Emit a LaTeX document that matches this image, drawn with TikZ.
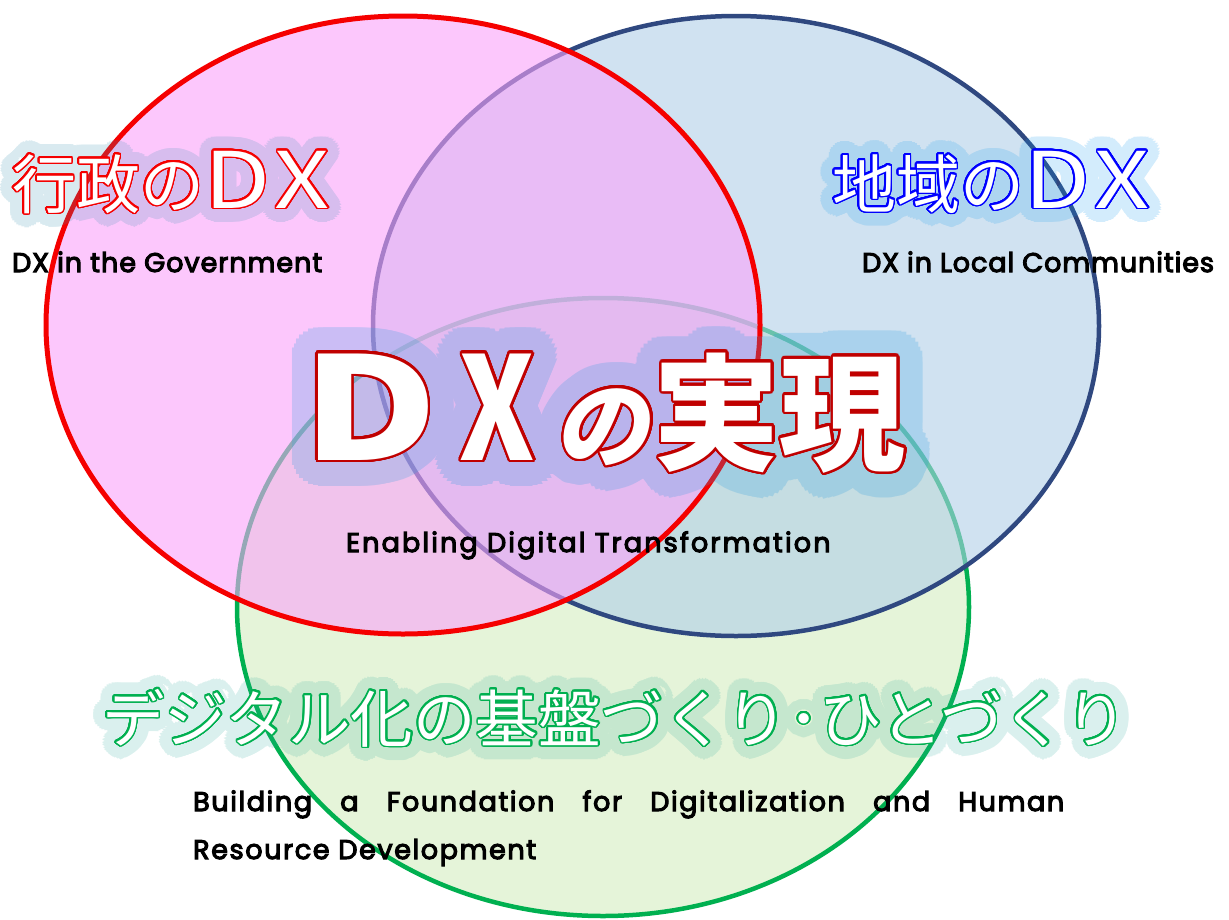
\documentclass[tikz,border=0pt]{standalone}
\usepackage{fontspec}
\usepackage{graphicx}
\usepackage[copies]{contour}
\contournumber{32}
\newfontfamily\jp{Noto Sans CJK JP}
\newfontfamily\jpsl{Noto Sans CJK JP}[FakeSlant=0.18]
\newfontfamily\en{Poppins}[FakeBold=4]
\definecolor{redline}{RGB}{245,0,0}
\definecolor{blueline}{RGB}{47,72,128}
\definecolor{greenline}{RGB}{0,176,80}
\definecolor{redfill}{RGB}{250,163,250}
\definecolor{bluefill}{RGB}{177,207,233}
\definecolor{greenfill}{RGB}{213,237,193}
\definecolor{darkred}{RGB}{192,0,0}
\definecolor{govglow}{RGB}{60,150,180}
\definecolor{locglow}{RGB}{30,160,240}
\definecolor{fndglow}{RGB}{50,175,160}
\definecolor{dxglow}{RGB}{50,160,225}
% name, node options, font, glow colour, outline colour, outline length, glow radius, text, glow strength
\newcommand\titletext[9]{%
  \begin{scope}[transparency group, opacity=0.16*#9]
    \node[inner sep=0, #2] (#1-g1) {#3\contourlength{#7}\color{#4}\contour{#4}{#8}};
  \end{scope}
  \begin{scope}[transparency group, opacity=0.2*#9]
    \node[inner sep=0, #2] (#1-g2) {#3\contourlength{0.66#7}\color{#4}\contour{#4}{#8}};
  \end{scope}
  \begin{scope}[transparency group, opacity=0.28*#9]
    \node[inner sep=0, #2] (#1-g3) {#3\contourlength{0.33#7}\color{#4}\contour{#4}{#8}};
  \end{scope}
  \node[inner sep=0, #2] (#1) {#3\contourlength{#6}\color{white}\contour{#5}{#8}};
}
\tikzset{
  circ/.style={fill opacity=0.6, line width=#1},
  entext/.style={anchor=base west, inner sep=0, font=\en\fontsize{27}{27}\selectfont, text=black},
}
\newcommand\ls[1]{\addfontfeature{LetterSpace=#1}}
\begin{document}
\begin{tikzpicture}[x=1pt,y=-1pt]
\useasboundingbox (0,0) rectangle (1229,919);
\fill[white] (0,0) rectangle (1229,919);
% circles: green bottom, blue middle, red top
\path[circ=4.5pt, fill=greenfill, draw=greenline] (603,607) ellipse [x radius=366, y radius=309];
\path[circ=4.5pt, fill=bluefill, draw=blueline] (736,326) ellipse [x radius=363, y radius=310];
\path[circ=5pt, fill=redfill, draw=redline] (403,325) ellipse [x radius=357, y radius=309];
% titles
\titletext{gov}{anchor=base west, at={(12,208)}}{\fontsize{64}{64}\selectfont\jp}{govglow}{redline}{1.6pt}{14pt}{行政の\scalebox{1.5}[1.22]{D\kern3pt X}}{1.2}
\titletext{loc}{anchor=base west, at={(832,208)}}{\fontsize{64}{64}\selectfont\jp}{locglow}{blue}{1.6pt}{14pt}{地域の\scalebox{1.5}[1.22]{D\kern3pt X}}{1.2}
\titletext{fnd}{anchor=base west, at={(102,742)}}{\fontsize{62.5}{62.5}\selectfont\jp}{fndglow}{greenline}{1.6pt}{14pt}{デジタル化の基盤づくり･ひとづくり}{1.1}
\titletext{dx}{anchor=base west, at={(302,460)}}{\fontsize{143}{143}\selectfont\jp\bfseries}{dxglow}{darkred}{2.5pt}{26pt}{\scalebox{1.3}[1]{D}\hspace{22pt}\scalebox{0.8}[1]{X}\hspace{20pt}{\jpsl\fontsize{95}{95}\selectfont の}\hspace{4pt}{\fontsize{126}{126}\selectfont 実現}}{1.5}
% english texts
\node[entext] (govtxt) at (12,272) {\ls{3.6}DX in the Government};
\node[entext] (loctxt) at (862,272) {\ls{3.5}DX in Local Communities};
\node[entext] (dxtxt) at (346,552) {\ls{8}Enabling Digital Transformation};
\node[entext] (fndtxt1) at (193,811) {\ls{6}\makebox[871pt][s]{Building a Foundation for Digitalization and Human}};
\node[entext] (fndtxt2) at (193,859) {\ls{6}Resource Development};
\end{tikzpicture}
\end{document}
